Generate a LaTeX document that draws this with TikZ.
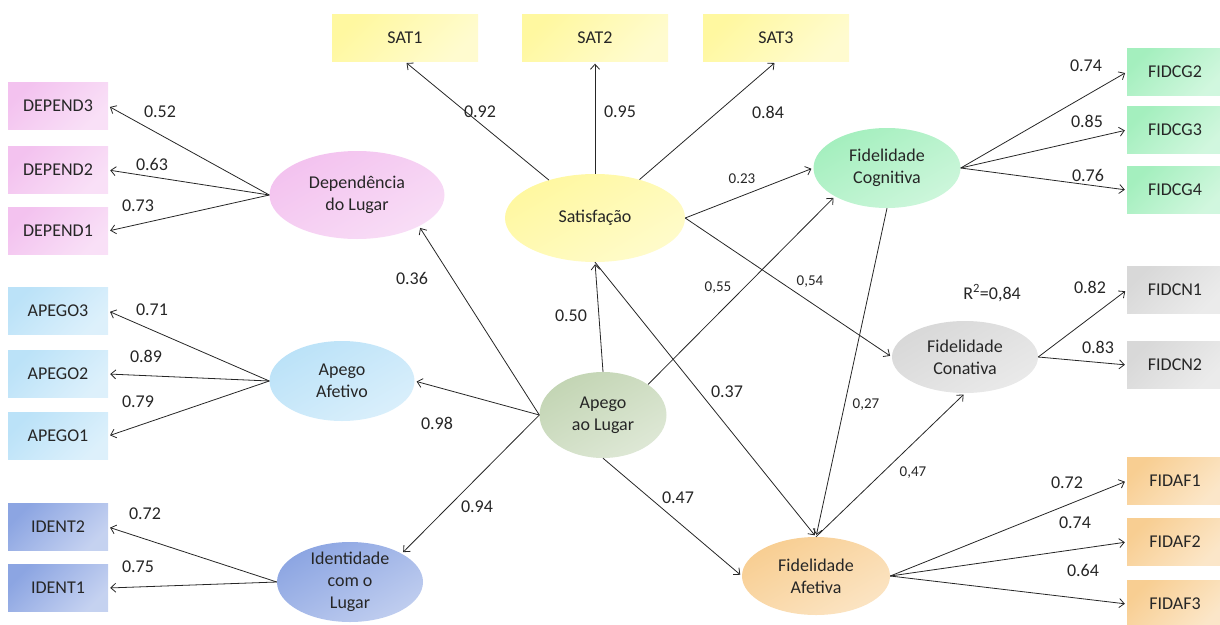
\documentclass[tikz,border=0pt]{standalone}
\usepackage{fontspec}
\setmainfont{Carlito}
\usepackage{tikz}
\usetikzlibrary{arrows.meta,shapes.geometric}

\definecolor{satcol}{HTML}{FFF8A0}
\definecolor{depcol}{HTML}{F3C2EF}
\definecolor{apecol}{HTML}{BBE2F8}
\definecolor{idecol}{HTML}{8CA5E2}
\definecolor{cogcol}{HTML}{A4EFBE}
\definecolor{concol}{HTML}{D8D8D8}
\definecolor{afecol}{HTML}{F8CE92}
\definecolor{aplcol}{HTML}{C3D5B4}

\begin{document}
\begin{tikzpicture}[x=1pt,y=-1pt,
  >={Straight Barb[length=5pt,width=9pt]},
  every node/.style={font=\fontsize{18}{22}\selectfont,text=black!85},
  ind/.style={rectangle,minimum width=100pt,minimum height=47pt,inner sep=0pt,
    top color=#1,bottom color=#1!50,shading angle=45},
  lat/.style={ellipse,align=center,top color=#1,bottom color=#1!55,shading angle=30},
  lbl/.style={inner sep=1pt},
  sml/.style={inner sep=1pt,font=\fontsize{15}{17}\selectfont},
  path/.style={->,black!85,line width=0.8pt,shorten >=2pt}]
\useasboundingbox (0,0) rectangle (1220,624);

% indicators
\node[ind=satcol,minimum width=146pt] (sat1) at (405,38) {SAT1};
\node[ind=satcol,minimum width=146pt] (sat2) at (595,38) {SAT2};
\node[ind=satcol,minimum width=146pt] (sat3) at (776,38) {SAT3};
\node[ind=depcol] (dep3) at (58,106) {DEPEND3};
\node[ind=depcol] (dep2) at (58,170) {DEPEND2};
\node[ind=depcol] (dep1) at (58,231) {DEPEND1};
\node[ind=apecol] (ape3) at (58,311) {APEGO3};
\node[ind=apecol] (ape2) at (58,374) {APEGO2};
\node[ind=apecol] (ape1) at (58,436) {APEGO1};
\node[ind=idecol] (ide2) at (58,527) {IDENT2};
\node[ind=idecol] (ide1) at (58,588) {IDENT1};
\node[ind=cogcol,minimum width=96pt] (cg2) at (1175,72) {FIDCG2};
\node[ind=cogcol,minimum width=96pt] (cg3) at (1175,130) {FIDCG3};
\node[ind=cogcol,minimum width=96pt] (cg4) at (1175,190) {FIDCG4};
\node[ind=concol,minimum width=96pt] (cn1) at (1175,290) {FIDCN1};
\node[ind=concol,minimum width=96pt] (cn2) at (1175,365) {FIDCN2};
\node[ind=afecol,minimum width=96pt] (af1) at (1175,481) {FIDAF1};
\node[ind=afecol,minimum width=96pt] (af2) at (1175,542) {FIDAF2};
\node[ind=afecol,minimum width=96pt] (af3) at (1175,604) {FIDAF3};

% latent variables
\node[lat=depcol,minimum width=175pt,minimum height=88pt] (dep) at (357,195) {Dependência\\do Lugar};
\node[lat=satcol,minimum width=180pt,minimum height=88pt] (sat) at (595,218) {Satisfação};
\node[lat=apecol,minimum width=145pt,minimum height=80pt] (apa) at (342,381) {Apego\\Afetivo};
\node[lat=aplcol,minimum width=127pt,minimum height=86pt] (apl) at (603,415) {Apego\\ao Lugar};
\node[lat=idecol,minimum width=146pt,minimum height=80pt,inner ysep=-4pt] (ide) at (350,582) {Identidade\\com o\\Lugar};
\node[lat=cogcol,minimum width=147pt,minimum height=80pt] (cog) at (887,168) {Fidelidade\\Cognitiva};
\node[lat=concol,minimum width=146pt,minimum height=72pt] (con) at (965,357) {Fidelidade\\Conativa};
\node[lat=afecol,minimum width=148pt,minimum height=78pt] (afe) at (816,576) {Fidelidade\\Afetiva};

% measurement paths
\draw[path] (sat) -- (sat1.south);
\draw[path] (sat) -- (sat2.south);
\draw[path] (sat) -- (sat3.south);
\draw[path] (dep.west) -- (dep3.east);
\draw[path] (dep.west) -- (dep2.east);
\draw[path] (dep.west) -- (dep1.east);
\draw[path] (apa.west) -- (ape3.east);
\draw[path] (apa.west) -- (ape2.east);
\draw[path] (apa.west) -- (ape1.east);
\draw[path] (ide.west) -- (ide2.east);
\draw[path] (ide.west) -- (ide1.east);
\draw[path] (cog.east) -- (cg2.west);
\draw[path] (cog.east) -- (cg3.west);
\draw[path] (cog.east) -- (cg4.west);
\draw[path] (con.east) -- (cn1.west);
\draw[path] (con.east) -- (cn2.west);
\draw[path] (afe.east) -- (af1.west);
\draw[path] (afe.east) -- (af2.west);
\draw[path] (afe.east) -- (af3.west);

% structural paths
\draw[path] (apl.west) -- (dep.south east);
\draw[path] (apl.west) -- (apa.east);
\draw[path] (apl.west) -- (ide.north east);
\draw[path] (apl.north) -- (sat.south);
\draw[path] (apl.north east) -- (cog.south west);
\draw[path] (apl.south) -- (afe.west);
\draw[path] (sat.east) -- (cog.west);
\draw[path] (sat.east) -- (con.west);
\draw[path] (sat.south) -- (afe.north);
\draw[path] (cog.south) -- (afe.north);
\draw[path] (afe.north) -- (con.south);

% loadings
\node[lbl] (wsat1) at (480,112) {0.92};
\node[lbl] (wsat2) at (620,112) {0.95};
\node[lbl] (wsat3) at (768,112) {0.84};
\node[lbl] (wdep3) at (160,112) {0.52};
\node[lbl] (wdep2) at (152,164) {0.63};
\node[lbl] (wdep1) at (138,206) {0.73};
\node[lbl] (wape3) at (152,310) {0.71};
\node[lbl] (wape2) at (146,356) {0.89};
\node[lbl] (wape1) at (138,402) {0.79};
\node[lbl] (wide2) at (145,514) {0.72};
\node[lbl] (wide1) at (138,567) {0.75};
\node[lbl] (wcg2) at (1086,66) {0.74};
\node[lbl] (wcg3) at (1087,121) {0.85};
\node[lbl] (wcg4) at (1088,175) {0.76};
\node[lbl] (wcn1) at (1090,287) {0.82};
\node[lbl] (wcn2) at (1098,347) {0.83};
\node[lbl] (waf1) at (1067,483) {0.72};
\node[lbl] (waf2) at (1075,523) {0.74};
\node[lbl] (waf3) at (1083,570) {0.64};

% path coefficients
\node[lbl] (wdep) at (412,278) {0.36};
\node[lbl] (wapa) at (437,423) {0.98};
\node[lbl] (wide) at (477,507) {0.94};
\node[lbl] (wsat) at (571,316) {0.50};
\node[sml] (wcog) at (718,288) {0,55};
\node[lbl] (wafe) at (678,498) {0.47};
\node[sml] (wsc) at (742,179) {0.23};
\node[sml] (wsn) at (810,282) {0,54};
\node[lbl] (wsa) at (727,392) {0.37};
\node[sml] (wca) at (866,405) {0,27};
\node[sml] (wan) at (913,473) {0,47};
\node[lbl] (rsq) at (992,293) {R\textsuperscript{2}=0,84};
\end{tikzpicture}
\end{document}
